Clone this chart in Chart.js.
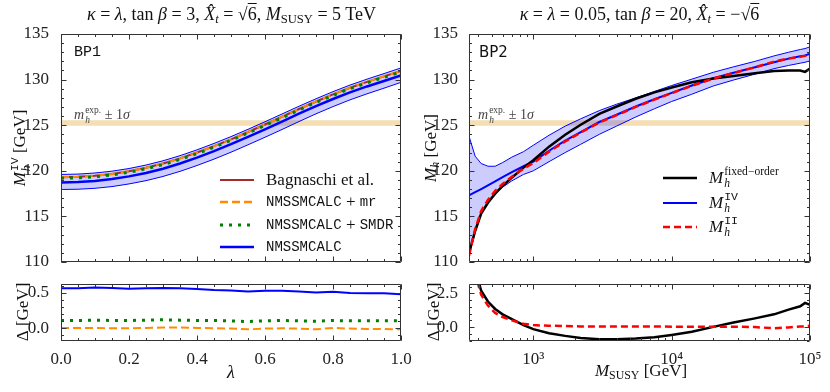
<!DOCTYPE html>
<html>
<head>
<meta charset="utf-8">
<script src="https://cdn.jsdelivr.net/npm/chart.js@4.4.1/dist/chart.umd.min.js"></script>
<style>
  html, body { margin: 0; padding: 0; background: #fff; }
  #wrap { position: relative; width: 830px; height: 392px; overflow: hidden; font-family: "Liberation Serif", "DejaVu Serif", serif; color: #111; }
  #wrap canvas { position: absolute; left: 0; top: 0; }
  .txt { position: absolute; white-space: nowrap; line-height: 1; }
  .m { font-style: italic; }
  .tt { font-family: "Liberation Mono", "DejaVu Sans Mono", monospace; }
  .sb { font-size: 0.7em; vertical-align: -0.25em; }
  .ss { display: inline-flex; flex-direction: column; font-size: 0.68em; line-height: 1; vertical-align: 0.6em; margin-left: 1px; }
  .rot { transform: translate(-50%, -50%) rotate(-90deg); }
  .ctr { transform: translate(-50%, -50%); }
  .row { position: absolute; display: flex; align-items: center; height: 22px; white-space: nowrap; font-size: 17px; }
  .row svg { margin-right: 12px; }
  .ovl { text-decoration: overline; }
</style>
</head>
<body>
<div id="wrap">
  <canvas id="c1" width="830" height="392"></canvas>
  <canvas id="c2" width="830" height="392"></canvas>
  <canvas id="c3" width="830" height="392"></canvas>
  <canvas id="c4" width="830" height="392"></canvas>

  <div class="txt" style="left:41px;width:381px;top:5px;text-align:center;font-size:18px;">
    <span class="m">κ</span> = <span class="m">λ</span>, tan <span class="m">β</span> = 3, <span class="m">X̂</span><span class="sb m">t</span> = √<span class="ovl">6</span>, <span class="m">M</span><span class="sb">SUSY</span> = 5 TeV
  </div>
  <div class="txt" style="left:449px;width:381px;top:5px;text-align:center;font-size:18px;">
    <span class="m">κ</span> = <span class="m">λ</span> = 0.05, tan <span class="m">β</span> = 20, <span class="m">X̂</span><span class="sb m">t</span> = −√<span class="ovl">6</span>
  </div>

  <div class="txt tt" style="left:74px;top:45px;font-size:15px;">BP1</div>
  <div class="txt" style="left:479px;top:45px;font-size:15px;font-family:'DejaVu Sans',sans-serif;">BP2</div>

  <div class="txt" style="left:74px;top:106px;font-size:14px;color:#444;"><span class="m">m</span><span class="ss"><span>exp.</span><span class="m">h</span></span>&nbsp;± 1<span class="m">σ</span></div>
  <div class="txt" style="left:478px;top:106px;font-size:14px;color:#444;"><span class="m">m</span><span class="ss"><span>exp.</span><span class="m">h</span></span>&nbsp;± 1<span class="m">σ</span></div>

  <div class="txt rot" style="left:21px;top:148px;font-size:17px;"><span class="m">M</span><span class="ss"><span class="tt">IV</span><span class="m">h</span></span>&nbsp;[GeV]</div>
  <div class="txt rot" style="left:22px;top:312px;font-size:17px;">Δ&nbsp;[GeV]</div>
  <div class="txt rot" style="left:432px;top:148px;font-size:17px;"><span class="m">M</span><span class="sb m">h</span>&nbsp;[GeV]</div>
  <div class="txt rot" style="left:433px;top:312px;font-size:17px;">Δ&nbsp;[GeV]</div>
  <div class="txt ctr m" style="left:231px;top:372px;font-size:18px;">λ</div>
  <div class="txt ctr" style="left:641px;top:372px;font-size:17px;"><span class="m">M</span><span class="sb">SUSY</span>&nbsp;[GeV]</div>

  <div class="row" style="left:220px;top:169px;"><svg width="34" height="8"><line x1="0" y1="4" x2="34" y2="4" stroke="#a52a2a" stroke-width="2"/></svg>Bagnaschi et al.</div>
  <div class="row" style="left:220px;top:191px;"><svg width="34" height="8"><line x1="0" y1="4" x2="34" y2="4" stroke="#ff8c00" stroke-width="2.5" stroke-dasharray="8 4"/></svg><span class="tt" style="font-size:14px;">NMSSMCALC</span>&nbsp;+&nbsp;<span class="tt" style="font-size:14px;">mr</span></div>
  <div class="row" style="left:220px;top:214px;"><svg width="34" height="8"><line x1="0" y1="4" x2="34" y2="4" stroke="#008000" stroke-width="3" stroke-dasharray="3 6"/></svg><span class="tt" style="font-size:14px;">NMSSMCALC</span>&nbsp;+&nbsp;<span class="tt" style="font-size:14px;">SMDR</span></div>
  <div class="row" style="left:220px;top:236px;"><svg width="34" height="8"><line x1="0" y1="4" x2="34" y2="4" stroke="#0000ff" stroke-width="2.5"/></svg><span class="tt" style="font-size:14px;">NMSSMCALC</span></div>

  <div class="row" style="left:663px;top:167px;"><svg width="34" height="8"><line x1="0" y1="4" x2="34" y2="4" stroke="#000" stroke-width="2.5"/></svg><span class="m">M</span><span class="ss"><span>fixed−order</span><span class="m">h</span></span></div>
  <div class="row" style="left:663px;top:192px;"><svg width="34" height="8"><line x1="0" y1="4" x2="34" y2="4" stroke="#0000ff" stroke-width="2"/></svg><span class="m">M</span><span class="ss"><span class="tt">IV</span><span class="m">h</span></span></div>
  <div class="row" style="left:663px;top:216px;"><svg width="34" height="8"><line x1="0" y1="4" x2="34" y2="4" stroke="#ff0000" stroke-width="2.5" stroke-dasharray="7 4"/></svg><span class="m">M</span><span class="ss"><span class="tt">II</span><span class="m">h</span></span></div>
</div>

<script>
// BP1: scan over lambda
const lambda = [0, 0.05, 0.1, 0.15, 0.2, 0.25, 0.3, 0.35, 0.4, 0.45, 0.5, 0.55, 0.6, 0.65, 0.7, 0.75, 0.8, 0.85, 0.9, 0.95, 1.0];
const bagnaschi = [119.3, 119.34, 119.46, 119.66, 119.95, 120.33, 120.8, 121.36, 122.0, 122.7, 123.45, 124.25, 125.08, 125.93, 126.78, 127.6, 128.38, 129.1, 129.75, 130.35, 130.95];
const calcMr = [119.3, 119.34, 119.46, 119.66, 119.95, 120.33, 120.79, 121.35, 122.0, 122.7, 123.45, 124.26, 125.08, 125.93, 126.78, 127.61, 128.38, 129.1, 129.76, 130.36, 130.96];
const calcSmdr = [119.19, 119.23, 119.35, 119.55, 119.84, 120.22, 120.68, 121.25, 121.89, 122.59, 123.35, 124.15, 124.98, 125.82, 126.68, 127.5, 128.27, 129.0, 129.65, 130.25, 130.85];
const calc = [118.73, 118.77, 118.88, 119.09, 119.39, 119.76, 120.23, 120.8, 121.45, 122.16, 122.92, 123.73, 124.55, 125.4, 126.26, 127.1, 127.87, 128.6, 129.25, 129.85, 130.47];
const calcUp = [119.6, 119.64, 119.76, 119.96, 120.25, 120.63, 121.1, 121.66, 122.3, 123.0, 123.75, 124.55, 125.38, 126.23, 127.08, 127.9, 128.68, 129.4, 130.05, 130.66, 131.28];
const calcLo = [117.95, 117.98, 118.08, 118.27, 118.56, 118.92, 119.38, 119.94, 120.58, 121.28, 122.04, 122.85, 123.68, 124.53, 125.4, 126.25, 127.04, 127.78, 128.44, 129.06, 129.7];
const deltaCalc = [0.565, 0.565, 0.575, 0.57, 0.56, 0.565, 0.57, 0.565, 0.555, 0.54, 0.535, 0.52, 0.53, 0.53, 0.52, 0.505, 0.515, 0.5, 0.495, 0.495, 0.48];
const deltaSmdr = [0.11, 0.11, 0.115, 0.11, 0.11, 0.115, 0.12, 0.115, 0.11, 0.11, 0.105, 0.095, 0.105, 0.11, 0.105, 0.1, 0.11, 0.105, 0.105, 0.105, 0.105];
const deltaMr = [0.005, 0.005, 0.005, 0.0, 0.0, 0.005, 0.01, 0.01, 0.005, 0.0, -0.005, -0.015, -0.005, 0.0, -0.005, -0.015, 0.005, -0.005, -0.01, -0.01, -0.015];

// BP2: scan over M_SUSY
const mSusy = [343, 380, 420, 470, 530, 600, 700, 850, 1000, 1300, 1700, 2200, 3000, 4000, 5500, 7500, 10000, 14000, 20000, 28000, 40000, 55000, 70000, 85000, 92000, 100000];
const mhFixed = [111.0, 113.4, 115.3, 116.5, 117.5, 118.35, 119.25, 120.35, 121.15, 122.65, 123.95, 125.05, 126.25, 127.05, 127.9, 128.6, 129.13, 129.7, 130.13, 130.4, 130.7, 130.95, 131.0, 131.0, 130.85, 131.2];
const mhIV = [117.3, 117.65, 118.0, 118.4, 118.85, 119.3, 119.85, 120.5, 121.0, 122.2, 123.3, 124.25, 125.35, 126.15, 127.05, 127.85, 128.55, 129.35, 130.15, 130.75, 131.35, 131.9, 132.3, 132.55, 132.65, 132.85];
const mhIVUp = [123.8, 121.6, 120.8, 120.5, 120.5, 120.9, 121.5, 122.1, 122.8, 123.9, 124.9, 125.7, 126.6, 127.3, 128.0, 128.7, 129.35, 130.05, 130.8, 131.4, 132.0, 132.6, 133.0, 133.3, 133.4, 133.6];
const mhIVLo = [110.7, 113.3, 115.3, 116.5, 117.5, 118.2, 118.9, 119.6, 120.0, 121.0, 122.0, 122.9, 124.0, 124.9, 125.9, 126.8, 127.6, 128.4, 129.3, 129.95, 130.6, 131.2, 131.55, 131.8, 131.9, 132.05];
const mhII = [110.7, 113.6, 115.6, 116.8, 117.8, 118.55, 119.35, 120.25, 120.85, 122.1, 123.22, 124.2, 125.3, 126.1, 127.0, 127.8, 128.52, 129.32, 130.12, 130.72, 131.35, 131.98, 132.32, 132.5, 132.6, 132.75];
const deltaFixed = [6.3, 4.3, 2.7, 1.9, 1.35, 0.95, 0.6, 0.15, -0.15, -0.45, -0.65, -0.8, -0.9, -0.9, -0.85, -0.75, -0.58, -0.35, 0.02, 0.35, 0.65, 0.95, 1.3, 1.55, 1.8, 1.65];
const deltaII = [6.6, 4.0, 2.4, 1.6, 1.05, 0.75, 0.5, 0.25, 0.15, 0.1, 0.08, 0.05, 0.05, 0.05, 0.05, 0.05, 0.03, 0.03, 0.03, 0.03, 0.0, -0.08, -0.02, 0.05, 0.05, 0.1];

// experimental band m_h +- 1 sigma
const mhExp = [124.95, 125.55];

// tick labels
const mhTicks = [110, 115, 120, 125, 130, 135];
const lambdaTicks = [0, 0.2, 0.4, 0.6, 0.8, 1.0];
const lambdaLabels = ['0.0', '0.2', '0.4', '0.6', '0.8', '1.0'];
const deltaTicksBP1 = [0, 0.5];
const deltaLabelsBP1 = ['0.0', '0.5'];
const deltaTicksBP2 = [0, 2.5];
const deltaLabelsBP2 = ['0.0', '2.5'];
const mSusyTicks = [1000, 10000, 100000];
const mSusyLabels = ['10³', '10⁴', '10⁵'];

const serif = '"Liberation Serif", "DejaVu Serif", serif';

function pts(xs, ys) {
  return xs.map((x, i) => ({ x: x, y: ys[i] }));
}

function steps(a, b, s) {
  const out = [];
  for (let v = a; v <= b + 1e-9; v += s) out.push(+v.toFixed(4));
  return out;
}

const logMinor = [];
[100, 1000, 10000].forEach((d) => {
  for (let k = 2; k <= 9; k++) logMinor.push(k * d);
});

// inward ticks on all four sides + frame
const frameTicks = {
  id: 'frameTicks',
  afterDatasetsDraw(chart, args, o) {
    const { ctx, chartArea: a } = chart;
    const sx = chart.scales.x;
    const sy = chart.scales.y;
    const L = Math.round(a.left) + 0.5;
    const R = Math.round(a.right) - 0.5;
    const T = Math.round(a.top) + 0.5;
    const B = Math.round(a.bottom) - 0.5;
    ctx.save();
    ctx.strokeStyle = '#333';
    ctx.lineWidth = 1;
    ctx.beginPath();
    const mark = (vals, len, horiz) => {
      vals.forEach((v) => {
        if (horiz) {
          const p = Math.round(sx.getPixelForValue(v)) + 0.5;
          if (p < L - 1 || p > R + 1) return;
          ctx.moveTo(p, B); ctx.lineTo(p, B - len);
          ctx.moveTo(p, T); ctx.lineTo(p, T + len);
        } else {
          const p = Math.round(sy.getPixelForValue(v)) + 0.5;
          if (p < T - 1 || p > B + 1) return;
          ctx.moveTo(L, p); ctx.lineTo(L + len, p);
          ctx.moveTo(R, p); ctx.lineTo(R - len, p);
        }
      });
    };
    mark(o.xMajor, 5, true);
    mark(o.xMinor, 2.5, true);
    mark(o.yMajor, 5, false);
    mark(o.yMinor, 2.5, false);
    ctx.rect(L, T, R - L, B - T);
    ctx.stroke();
    ctx.restore();
  },
};

function line(xs, ys, color, width, dash) {
  return {
    data: pts(xs, ys),
    borderColor: color,
    borderWidth: width,
    borderDash: dash || [],
    borderCapStyle: 'butt',
    pointRadius: 0,
    fill: false,
    clip: 0,
  };
}

function bandPair(xs, up, lo, fillColor, edgeColor, edgeWidth) {
  return [
    { data: pts(xs, up), borderColor: edgeColor, borderWidth: edgeWidth, pointRadius: 0, fill: '+1', backgroundColor: fillColor, clip: 0 },
    { data: pts(xs, lo), borderColor: edgeColor, borderWidth: edgeWidth, pointRadius: 0, fill: false, clip: 0 },
  ];
}

function makeChart(id, cfg) {
  return new Chart(document.getElementById(id), {
    type: 'line',
    data: { datasets: cfg.datasets },
    options: {
      responsive: false,
      animation: false,
      events: [],
      layout: { padding: cfg.padding, autoPadding: false },
      plugins: { legend: { display: false }, tooltip: { enabled: false }, frameTicks: cfg.ticks },
      elements: { line: { tension: 0 } },
      scales: {
        x: {
          type: cfg.xType,
          min: cfg.xMin,
          max: cfg.xMax,
          display: cfg.xLabels ? true : false,
          grid: { display: false },
          border: { display: false },
          ticks: {
            font: { family: serif, size: 17 },
            color: '#222',
            padding: 0,
            maxRotation: 0,
            autoSkip: false,
            callback: (v, i) => (cfg.xLabels ? cfg.xLabels[i] : ''),
          },
          afterBuildTicks: (s) => { s.ticks = cfg.ticks.xMajor.map((v) => ({ value: v })); },
          afterFit: (s) => { s.height = cfg.xLabels ? 25 : 0; },
        },
        y: {
          type: 'linear',
          min: cfg.yMin,
          max: cfg.yMax,
          grid: { display: false },
          border: { display: false },
          ticks: {
            font: { family: serif, size: 17 },
            color: '#222',
            padding: cfg.yPad,
            callback: (v, i) => cfg.yLabels[i],
          },
          afterBuildTicks: (s) => { s.ticks = cfg.ticks.yMajor.map((v) => ({ value: v })); },
          afterFit: (s) => { s.width = cfg.yWidth; },
        },
      },
    },
    plugins: [frameTicks],
  });
}

const lamEnds = [0, 1];
const mEnds = [343, 100000];

// top left: BP1 masses
makeChart('c1', {
  padding: { left: 0, right: 429, top: 34, bottom: 130 },
  xType: 'linear', xMin: 0, xMax: 1,
  yMin: 110, yMax: 135, yWidth: 61, yPad: 4,
  yLabels: mhTicks.map(String),
  ticks: { xMajor: lambdaTicks, xMinor: steps(0, 1, 0.05), yMajor: mhTicks, yMinor: steps(110, 135, 1) },
  datasets: [
    line(lambda, calcSmdr, '#008000', 3, [3, 6]),
    line(lambda, calcMr, '#ff8c00', 2, [8, 4]),
    line(lambda, bagnaschi, '#a52a2a', 2),
    line(lambda, calc, '#0000ff', 2.5),
    ...bandPair(lambda, calcUp, calcLo, 'rgba(0,0,255,0.2)', '#0000ff', 1),
    ...bandPair(lamEnds, [mhExp[1], mhExp[1]], [mhExp[0], mhExp[0]], '#f5deb3', 'rgba(0,0,0,0)', 0),
  ],
});

// bottom left: BP1 differences
makeChart('c2', {
  padding: { left: 0, right: 429, top: 284, bottom: 26 },
  xType: 'linear', xMin: 0, xMax: 1, xLabels: lambdaLabels,
  yMin: -0.18, yMax: 0.626, yWidth: 61, yPad: 4,
  yLabels: deltaLabelsBP1,
  ticks: { xMajor: lambdaTicks, xMinor: steps(0, 1, 0.05), yMajor: deltaTicksBP1, yMinor: steps(-0.1, 0.6, 0.1) },
  datasets: [
    line(lambda, deltaSmdr, '#008000', 3, [3, 6]),
    line(lambda, deltaMr, '#ff8c00', 2, [8, 4]),
    line(lambda, deltaCalc, '#0000ff', 2),
  ],
});

// top right: BP2 masses
makeChart('c3', {
  padding: { left: 415, right: 20, top: 34, bottom: 130 },
  xType: 'logarithmic', xMin: 343, xMax: 100000,
  yMin: 110, yMax: 135, yWidth: 54, yPad: 3,
  yLabels: mhTicks.map(String),
  ticks: { xMajor: mSusyTicks, xMinor: logMinor, yMajor: mhTicks, yMinor: steps(110, 135, 1) },
  datasets: [
    line(mSusy, mhII, '#ff0000', 2.5, [7, 4]),
    line(mSusy, mhFixed, '#000000', 2.5),
    line(mSusy, mhIV, '#0000ff', 2),
    ...bandPair(mSusy, mhIVUp, mhIVLo, 'rgba(0,0,255,0.2)', '#0000ff', 1),
    ...bandPair(mEnds, [mhExp[1], mhExp[1]], [mhExp[0], mhExp[0]], '#f5deb3', 'rgba(0,0,0,0)', 0),
  ],
});

// bottom right: BP2 differences
makeChart('c4', {
  padding: { left: 415, right: 20, top: 284, bottom: 26 },
  xType: 'logarithmic', xMin: 343, xMax: 100000, xLabels: mSusyLabels,
  yMin: -1.03, yMax: 3.2, yWidth: 54, yPad: 3,
  yLabels: deltaLabelsBP2,
  ticks: { xMajor: mSusyTicks, xMinor: logMinor, yMajor: deltaTicksBP2, yMinor: steps(-1, 3, 0.5) },
  datasets: [
    line(mSusy, deltaII, '#ff0000', 2.5, [7, 4]),
    line(mSusy, deltaFixed, '#000000', 2.5),
  ],
});
</script>
</body>
</html>
